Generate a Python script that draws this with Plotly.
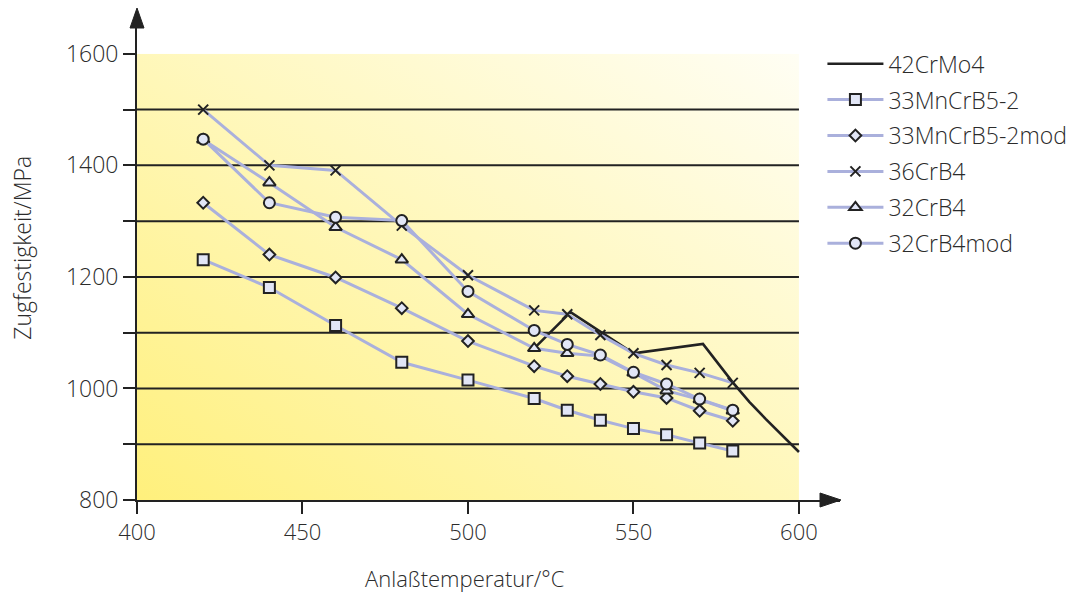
import base64
import plotly.graph_objects as go

# ---------------- data ----------------
temps = [420, 440, 460, 480, 500, 520, 530, 540, 550, 560, 570, 580]

mncrb5_2 = [1231, 1181, 1113, 1047, 1015, 982, 961, 943, 928, 917, 902, 888]
mncrb5_2mod = [1333, 1240, 1199, 1144, 1085, 1040, 1022, 1008, 994, 983, 960, 942]
crb4_36 = [1500, 1400, 1391, 1292, 1203, 1140, 1133, 1096, 1063, 1042, 1028, 1010]
crb4_32 = [1446, 1369, 1289, 1231, 1133, 1072, 1063, 1058, 1028, 996, 980, 960]
crb4_32mod = [1447, 1333, 1307, 1301, 1174, 1104, 1079, 1060, 1029, 1008, 981, 961]

crmo4_temps = [520, 531, 550, 571, 580, 585, 590, 600]
crmo4_vals = [1072, 1137, 1063, 1080, 1011, 976, 945, 886]

names = ["33MnCrB5-2", "33MnCrB5-2mod", "36CrB4", "32CrB4", "32CrB4mod"]
series = [mncrb5_2, mncrb5_2mod, crb4_36, crb4_32, crb4_32mod]
symbols = ["square", "diamond", "x-thin", "triangle-up", "circle"]
sizes = [11, 9, 10, 11, 11]

grid_vals = [900, 1000, 1100, 1200, 1300, 1400, 1500]
y_ticks = [800, 900, 1000, 1100, 1200, 1300, 1400, 1500, 1600]
y_labels = ["800", "", "1000", "", "1200", "", "1400", "", "1600"]
x_ticks = [400, 450, 500, 550, 600]

FONT = "Open Sans"
TXT = "#2b2b2b"
LINE = "#aab0dc"
MFILL = "#e2e6f6"
DARK = "#222222"
F = dict(family=FONT, size=23, color=TXT, weight=300)
FX = dict(family=FONT, size=22, color=TXT, weight=300)

fig = go.Figure()

fig.add_trace(go.Scatter(
    x=crmo4_temps, y=crmo4_vals, mode="lines", name="42CrMo4",
    line=dict(color=DARK, width=2.6), legendgroup="g0",
))

for i, (nm, vals, sym, sz) in enumerate(zip(names, series, symbols, sizes)):
    fig.add_trace(go.Scatter(
        x=temps, y=vals, mode="lines+markers", name=nm,
        legendgroup=f"g{i+1}",
        line=dict(color=LINE, width=3),
        marker=dict(symbol=sym, size=sz, color=MFILL if sym != "x-thin" else DARK,
                    line=dict(color=DARK, width=2)),
    ))

# gradient background (yellow bottom-left -> near white top-right)
svg = (
    '<svg xmlns="http://www.w3.org/2000/svg" width="200" height="100" preserveAspectRatio="none">'
    '<defs><linearGradient id="g" x1="0" y1="1" x2="1" y2="0">'
    '<stop offset="0" stop-color="#fff07c"/>'
    '<stop offset="0.55" stop-color="#fff8c0"/>'
    '<stop offset="1" stop-color="#fffef4"/>'
    '</linearGradient></defs>'
    '<rect width="200" height="100" fill="url(#g)"/></svg>'
)
src = "data:image/svg+xml;base64," + base64.b64encode(svg.encode()).decode()
fig.add_layout_image(dict(
    source=src, xref="x", yref="y", x=400, y=1600, sizex=200, sizey=800,
    sizing="stretch", layer="below", xanchor="left", yanchor="top",
))

shapes = []
for g in grid_vals:
    shapes.append(dict(type="line", xref="x", yref="y", x0=400, x1=600, y0=g, y1=g,
                       line=dict(color=DARK, width=2), layer="between"))
# axis arrows (pixel-sized, anchored at the axes corner, y pixels point up)
shapes.append(dict(type="path", xref="paper", yref="paper", xsizemode="pixel", ysizemode="pixel",
                   xanchor=0, yanchor=0, path="M -7 472 L 7 472 L 0 492 Z",
                   fillcolor=DARK, line=dict(color=DARK, width=1), layer="above"))
shapes.append(dict(type="path", xref="paper", yref="paper", xsizemode="pixel", ysizemode="pixel",
                   xanchor=0, yanchor=0, path="M 683 7 L 683 -7 L 704 0 Z",
                   fillcolor=DARK, line=dict(color=DARK, width=1), layer="above"))

fig.update_layout(
    width=1078, height=592,
    margin=dict(l=137, r=238, t=12, b=92, autoexpand=False),
    paper_bgcolor="white", plot_bgcolor="white",
    font=F,
    shapes=shapes,
    showlegend=True,
    legend=dict(x=0.975, xanchor="left", y=0.938, yanchor="top",
                font=F, tracegroupgap=3, traceorder="grouped", itemwidth=56,
                bgcolor="rgba(0,0,0,0)"),
    annotations=[
        dict(text="Zugfestigkeit/MPa", xref="paper", yref="paper", x=-0.164,
             y=(500 - 248) / 488, textangle=-90, showarrow=False, font=F,
             xanchor="center", yanchor="middle"),
        dict(text="Anlaßtemperatur/°C", xref="x", yref="paper", x=499, y=-(578 - 500) / 488,
             showarrow=False, font=FX, xanchor="center", yanchor="middle"),
    ],
)

fig.update_xaxes(
    range=[400, 612.4], showgrid=False, zeroline=False,
    showline=True, linecolor=DARK, linewidth=2,
    tickmode="array", tickvals=x_ticks, ticks="outside", ticklen=12, tickwidth=2,
    tickcolor=DARK, tickfont=FX,
)
fig.update_yaxes(
    range=[800, 1675], showgrid=False, zeroline=False,
    showline=True, linecolor=DARK, linewidth=2,
    tickmode="array", tickvals=y_ticks, ticktext=y_labels, ticks="outside", ticklen=12,
    tickwidth=2, tickcolor=DARK, tickfont=F,
)

fig.write_html("out.html")
